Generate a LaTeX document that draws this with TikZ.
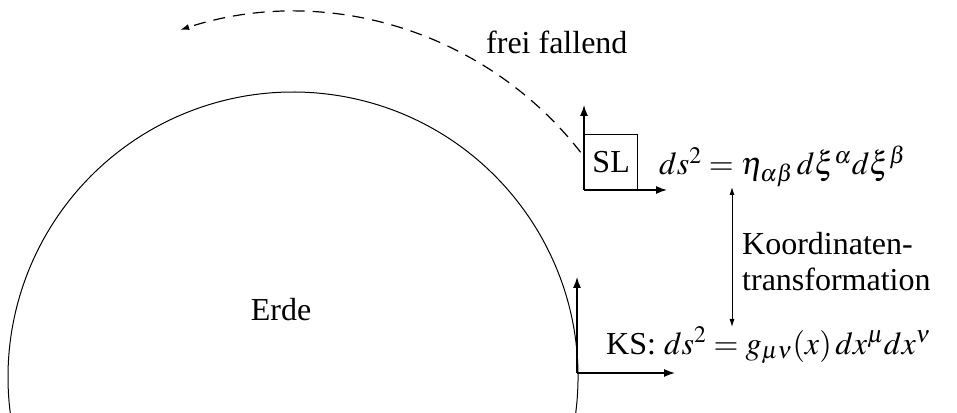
\documentclass[tikz,border=0pt]{standalone}
\usepackage{mathptmx}
\usepackage[no-math]{fontspec}
\setmainfont{Liberation Serif}
\usetikzlibrary{arrows.meta}
\tikzset{
  lbl/.style={inner sep=0pt, font=\fontsize{32}{36}\selectfont},
  axis/.style={line width=1.3pt, -{Latex[length=11pt,width=8pt]}},
  thinarrow/.style={line width=0.9pt, {Latex[length=8pt,width=5pt]}-{Latex[length=8pt,width=5pt]}},
  earth/.style={line width=1pt},
  fall/.style={line width=1.2pt, dash pattern=on 12pt off 8pt, -{Latex[length=9pt,width=6pt]}},
  box/.style={draw, line width=1.3pt, minimum width=53pt, minimum height=55pt, inner sep=0pt, font=\fontsize{32}{36}\selectfont}
}
\begin{document}
\begin{tikzpicture}[x=1pt,y=1pt]
\useasboundingbox (0,0) rectangle (957,412);
\clip (0,0) rectangle (957,412);
\coordinate (c) at (293,35);
% Earth
\draw[earth] ([shift={(-8:285)}]c) arc[start angle=-8, end angle=188, radius=285];
\node[lbl, anchor=base] (erde) at (281,92) {Erde};
% free fall path
\draw[fall] ([shift={(38:365)}]c) arc[start angle=38, end angle=108, radius=365];
\node[lbl, anchor=base west] (frei) at (486,358) {frei fallend};
% SL frame
\node[box, anchor=south west] (sl) at (584,222) {SL};
\coordinate (slo) at (sl.south west);
\coordinate (sly) at (584,307);
\coordinate (slx) at (667,222);
\draw[axis] (slo) -- (sly);
\draw[axis] (slo) -- (slx);
\node[lbl, anchor=base west] (eqsl) at (659,237) {$ds^2 = \eta_{\alpha\beta}\,d\xi^\alpha d\xi^\beta$};
% KS frame
\coordinate (kso) at (577,39);
\coordinate (ksy) at (577,135);
\coordinate (ksx) at (675,39);
\draw[axis] (kso) -- (ksy);
\draw[axis] (kso) -- (ksx);
\node[lbl, anchor=base west] (eqks) at (606,58) {KS: $ds^2 = g_{\mu\nu}(x)\,dx^\mu dx^\nu$};
% transformation
\coordinate (ta) at (732,225);
\coordinate (tb) at (732,85);
\draw[thinarrow] (ta) -- (tb);
\node[lbl, anchor=west, align=left] (trans) at (742,150) {Koordinaten-\\transformation};
\end{tikzpicture}
\end{document}
